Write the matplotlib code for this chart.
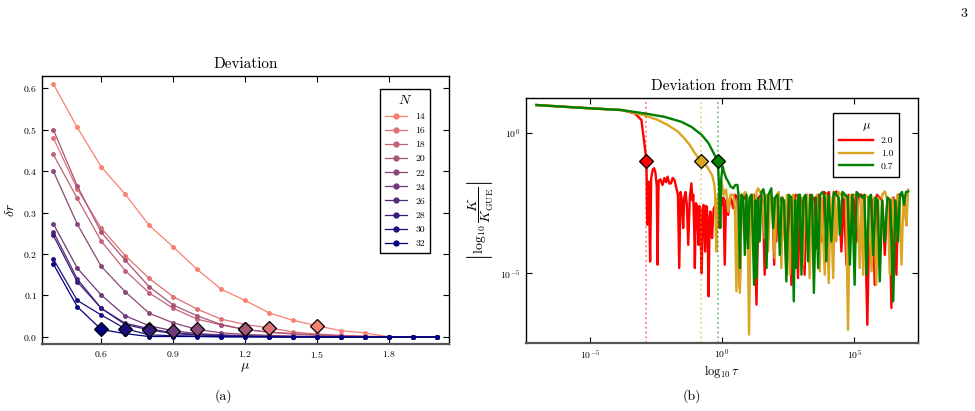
import numpy as np
import matplotlib
matplotlib.use("Agg")
import matplotlib.pyplot as plt

plt.rcParams['font.family'] = 'serif'
plt.rcParams['font.serif'] = ['cmr10', 'DejaVu Serif']
plt.rcParams['mathtext.fontset'] = 'cm'
plt.rcParams['axes.formatter.use_mathtext'] = True
plt.rcParams['axes.unicode_minus'] = False

# (a) deviation of r vs mu
mu = [0.4, 0.5, 0.6, 0.7, 0.8, 0.9, 1.0, 1.1, 1.2, 1.3, 1.4, 1.5, 1.6, 1.7, 1.8, 1.9, 2.0]
Ns = [14, 16, 18, 20, 22, 24, 26, 28, 30, 32]
dr14 = [0.61, 0.505, 0.41, 0.344, 0.269, 0.217, 0.163, 0.115, 0.088, 0.058, 0.040, 0.027, 0.015, 0.010, 0.0, 0.0, 0.0]
dr16 = [0.48, 0.357, 0.262, 0.196, 0.141, 0.097, 0.067, 0.043, 0.030, 0.022, 0.012, 0.007, 0.004, 0.002, 0.001, 0.0, 0.0]
dr18 = [0.44, 0.334, 0.231, 0.160, 0.106, 0.069, 0.043, 0.029, 0.018, 0.011, 0.007, 0.004, 0.002, 0.001, 0.0, 0.0, 0.0]
dr20 = [0.50, 0.364, 0.252, 0.185, 0.121, 0.077, 0.051, 0.030, 0.018, 0.012, 0.008, 0.005, 0.003, 0.001, 0.0, 0.0, 0.0]
dr22 = [0.40, 0.272, 0.170, 0.109, 0.057, 0.034, 0.018, 0.010, 0.006, 0.004, 0.002, 0.001, 0.001, 0.0, 0.0, 0.0, 0.0]
dr24 = [0.273, 0.166, 0.101, 0.051, 0.027, 0.015, 0.008, 0.005, 0.003, 0.002, 0.001, 0.001, 0.0, 0.0, 0.0, 0.0, 0.0]
dr26 = [0.254, 0.140, 0.069, 0.033, 0.020, 0.010, 0.006, 0.004, 0.002, 0.001, 0.001, 0.0, 0.0, 0.0, 0.0, 0.0, 0.0]
dr28 = [0.245, 0.133, 0.069, 0.030, 0.017, 0.008, 0.005, 0.003, 0.002, 0.001, 0.0, 0.0, 0.0, 0.0, 0.0, 0.0, 0.0]
dr30 = [0.188, 0.088, 0.053, 0.020, 0.005, 0.003, 0.002, 0.001, 0.001, 0.0, 0.0, 0.0, 0.0, 0.0, 0.0, 0.0, 0.0]
dr32 = [0.176, 0.073, 0.018, 0.008, 0.001, 0.001, 0.001, 0.0, 0.0, 0.0, 0.0, 0.0, 0.0, 0.0, 0.0, 0.0, 0.0]
mu_star = [1.5, 1.3, 1.2, 1.2, 1.0, 0.9, 0.8, 0.8, 0.7, 0.6]

# (b) |log10 K/K_GUE| vs tau, points stored as (log10 tau, log10 value)
red_pts = [(-7.02, 1.01), (-5.5, 0.92), (-3.80, 0.83), (-3.30, 0.71), (-3.05, 0.475), (-2.93, -0.42), (-2.86, -1.0),
           (-2.83, -3.27), (-2.80, -1.9), (-2.77, -1.73), (-2.72, -4.59), (-2.68, -1.6), (-2.62, -1.3), (-2.57, -1.25),
           (-2.52, -1.4), (-2.47, -1.9), (-2.44, -4.70), (-2.40, -1.7), (-2.33, -1.65), (-2.25, -1.85), (-2.18, -1.6),
           (-2.12, -1.75), (-2.06, -1.55), (-2.00, -1.8), (-1.93, -1.79), (-1.87, -1.6), (-1.80, -1.67), (-1.72, -2.0),
           (-1.67, -2.20), (-1.62, -4.82), (-1.57, -2.1), (-1.52, -2.4), (-1.47, -3.39), (-1.43, -2.3), (-1.38, -2.1),
           (-1.33, -2.6), (-1.28, -3.99), (-1.22, -2.3), (-1.16, -1.79), (-1.12, -2.4), (-1.09, -2.20), (-1.05, -3.6),
           (-1.03, -4.82), (-0.99, -2.5), (-0.96, -2.56), (-0.92, -3.3), (-0.89, -3.99), (-0.86, -2.6), (-0.83, -2.68),
           (-0.80, -4.1), (-0.77, -5.0), (-0.73, -2.7), (-0.70, -2.56), (-0.67, -3.4), (-0.64, -4.23), (-0.60, -2.6),
           (-0.57, -2.68), (-0.54, -4.0), (-0.51, -5.83), (-0.47, -3.0), (-0.44, -2.80), (-0.41, -3.2), (-0.38, -3.75),
           (-0.32, -2.7), (-0.25, -2.56), (-0.18, -2.4), (-0.12, -2.20), (-0.09, -3.39), (-0.05, -2.4), (0.0, -2.56),
           (0.05, -2.3), (0.10, -4.70), (0.15, -2.4), (0.23, -2.92), (0.30, -2.3), (0.36, -2.4), (0.42, -2.68),
           (0.50, -2.2), (0.58, -2.3), (0.67, -5.54), (0.74, -2.2), (0.82, -2.35), (0.90, -2.2), (0.97, -2.5),
           (1.05, -3.63), (1.12, -2.3), (1.20, -2.2), (1.30, -6.13), (1.38, -2.3), (1.47, -2.2), (1.54, -2.4),
           (1.61, -5.06), (1.68, -2.3), (1.76, -2.2), (1.84, -2.5), (1.90, -2.3), (1.97, -4.70), (2.01, -2.4),
           (2.05, -3.87), (2.12, -2.2), (2.20, -2.4), (2.28, -2.3), (2.36, -2.6), (2.43, -5.06), (2.50, -2.3),
           (2.56, -2.4), (2.62, -5.42), (2.70, -2.3), (2.78, -2.2), (2.87, -5.18), (2.95, -2.3), (3.03, -2.5),
           (3.12, -5.06), (3.18, -2.3), (3.25, -3.87), (3.33, -2.2), (3.42, -2.4), (3.50, -2.3), (3.57, -4.11),
           (3.64, -2.2), (3.71, -2.3), (3.78, -3.87), (3.86, -2.1), (3.95, -2.2), (4.04, -2.1), (4.13, -3.28),
           (4.22, -2.2), (4.32, -2.08), (4.42, -2.4), (4.51, -4.23), (4.60, -2.3), (4.70, -4.70), (4.78, -2.2),
           (4.88, -2.3), (4.96, -2.2), (5.08, -3.87), (5.16, -2.2), (5.27, -2.20), (5.38, -2.4), (5.49, -6.85),
           (5.58, -2.3), (5.68, -2.4), (5.77, -5.42), (5.85, -2.2), (5.95, -2.3), (6.05, -2.4), (6.15, -4.35),
           (6.25, -2.3), (6.32, -2.4), (6.40, -6.25), (6.48, -2.3), (6.59, -5.06), (6.66, -2.2), (6.78, -2.20),
           (6.88, -2.3), (6.97, -3.28)]
gold_pts = [(-7.02, 1.01), (-5.5, 0.92), (-3.80, 0.83), (-2.93, 0.64), (-2.44, 0.48), (-2.06, 0.30), (-1.67, 0.06),
            (-1.42, -0.19), (-1.22, -0.42), (-1.03, -0.71), (-0.80, -1.0), (-0.57, -1.19), (-0.38, -1.49), (-0.30, -1.8),
            (-0.26, -2.2), (-0.22, -4.23), (-0.18, -2.5), (-0.15, -2.32), (-0.08, -1.9), (-0.02, -1.73), (0.06, -2.2),
            (0.15, -2.0), (0.23, -2.80), (0.32, -2.2), (0.42, -2.20), (0.48, -2.6), (0.54, -5.65), (0.60, -2.4),
            (0.67, -5.71), (0.74, -2.3), (0.80, -2.20), (0.88, -2.1), (0.95, -2.3), (1.02, -7.2), (1.09, -2.2),
            (1.17, -2.20), (1.24, -3.28), (1.30, -2.1), (1.36, -1.97), (1.44, -2.1), (1.52, -2.3), (1.61, -3.75),
            (1.67, -2.2), (1.74, -4.23), (1.82, -2.2), (1.90, -2.3), (1.99, -4.46), (2.06, -2.2), (2.14, -2.1),
            (2.24, -4.82), (2.30, -2.3), (2.37, -3.87), (2.45, -2.2), (2.56, -5.06), (2.63, -2.3), (2.69, -2.2),
            (2.75, -4.58), (2.83, -2.3), (2.95, -2.2), (3.06, -4.70), (3.14, -2.3), (3.22, -2.2), (3.31, -5.18),
            (3.40, -2.3), (3.50, -4.35), (3.58, -2.2), (3.69, -4.94), (3.76, -2.3), (3.88, -5.06), (3.95, -2.2),
            (4.03, -5.36), (4.10, -2.3), (4.20, -5.18), (4.26, -2.2), (4.32, -3.87), (4.40, -2.1), (4.50, -2.2),
            (4.60, -2.3), (4.68, -2.2), (4.76, -7.03), (4.84, -2.2), (4.94, -2.3), (5.04, -2.2), (5.12, -2.4),
            (5.20, -4.82), (5.27, -2.3), (5.33, -5.06), (5.40, -2.2), (5.52, -2.3), (5.65, -4.94), (5.74, -2.3),
            (5.83, -5.42), (5.90, -2.3), (5.96, -4.82), (6.05, -2.2), (6.15, -2.08), (6.25, -2.4), (6.34, -5.06),
            (6.43, -2.3), (6.53, -3.87), (6.62, -2.2), (6.70, -2.3), (6.78, -4.70), (6.86, -2.2), (6.97, -3.28),
            (7.03, -2.02)]
green_pts = [(-7.02, 1.01), (-5.5, 0.92), (-3.80, 0.83), (-2.93, 0.71), (-2.19, 0.59), (-1.54, 0.41), (-1.16, 0.23),
             (-0.77, -0.06), (-0.51, -0.36), (-0.32, -0.71), (-0.16, -1.0), (-0.11, -2.0), (-0.07, -3.39), (-0.03, -1.6),
             (0.02, -1.19), (0.08, -1.4), (0.15, -1.6), (0.23, -1.73), (0.32, -1.9), (0.42, -1.97), (0.50, -1.85),
             (0.58, -1.85), (0.62, -2.2), (0.67, -4.82), (0.73, -2.20), (0.80, -2.3), (0.86, -4.35), (0.92, -2.2),
             (0.98, -4.11), (1.04, -2.3), (1.12, -2.2), (1.21, -5.42), (1.26, -2.4), (1.30, -5.18), (1.36, -2.32),
             (1.42, -3.87), (1.49, -2.1), (1.56, -2.0), (1.62, -2.3), (1.68, -4.82), (1.75, -2.2), (1.86, -1.97),
             (1.93, -3.39), (2.00, -2.3), (2.10, -2.2), (2.18, -4.35), (2.25, -2.3), (2.34, -2.4), (2.43, -5.30),
             (2.52, -2.2), (2.62, -2.3), (2.71, -6.01), (2.76, -2.4), (2.81, -4.82), (2.88, -2.2), (2.94, -2.20),
             (3.00, -5.06), (3.08, -2.3), (3.16, -2.2), (3.25, -4.58), (3.33, -2.3), (3.40, -2.2), (3.47, -5.71),
             (3.55, -2.3), (3.63, -4.82), (3.70, -2.2), (3.80, -2.1), (3.88, -2.3), (3.94, -4.58), (4.02, -2.2),
             (4.13, -3.87), (4.22, -2.1), (4.32, -2.2), (4.40, -2.3), (4.45, -3.63), (4.55, -2.1), (4.65, -2.2),
             (4.75, -2.3), (4.83, -4.70), (4.92, -2.2), (5.01, -5.42), (5.08, -2.1), (5.18, -2.2), (5.30, -2.3),
             (5.38, -2.2), (5.46, -5.06), (5.55, -2.3), (5.63, -2.2), (5.71, -4.35), (5.80, -2.3), (5.88, -2.4),
             (5.96, -5.30), (6.05, -2.4), (6.15, -3.87), (6.25, -2.3), (6.36, -2.4), (6.47, -6.01), (6.55, -2.4),
             (6.65, -3.87), (6.72, -2.2), (6.80, -2.1), (6.88, -2.56), (6.95, -2.1), (7.03, -2.08)]
mus_b = ['2.0', '1.0', '0.7']
ltau_star = [-2.86, -0.80, -0.16]
threshold = 0.1

fig = plt.figure(figsize=(9.75, 4.11), dpi=100)

# colours from salmon to navy
c0 = np.array([250, 128, 114]) / 255.0
c1 = np.array([0, 0, 128]) / 255.0
cols = [tuple(c0 + (c1 - c0) * i / (len(Ns) - 1)) for i in range(len(Ns))]

ax1 = fig.add_axes([0.0431, 0.163, 0.4174, 0.652])
curves = [dr14, dr16, dr18, dr20, dr22, dr24, dr26, dr28, dr30, dr32]
for i in range(len(Ns)):
    ax1.plot(mu, curves[i], '-o', color=cols[i], lw=0.9, ms=2.5, label=str(Ns[i]))
for i in range(len(Ns)):
    j = mu.index(mu_star[i])
    ax1.plot(mu_star[i], curves[i][j], 'D', color=cols[i], mec='black', mew=0.9, ms=7, zorder=5)
ax1.set_xlim(0.353, 2.05)
ax1.set_ylim(-0.017, 0.629)
ax1.set_xticks([0.6, 0.9, 1.2, 1.5, 1.8])
ax1.set_yticks([0.0, 0.1, 0.2, 0.3, 0.4, 0.5, 0.6])
ax1.set_xlabel(r'$\mu$', fontsize=10, labelpad=1)
ax1.set_ylabel(r'$\delta r$', fontsize=10, labelpad=4)
ax1.set_title('Deviation', fontsize=11, pad=6)
leg = ax1.legend(title=r'$N$', loc='upper right', bbox_to_anchor=(0.965, 0.97), fontsize=7,
                 title_fontsize=10, fancybox=False, edgecolor='black', framealpha=1,
                 handlelength=2.3, labelspacing=0.55, borderpad=0.5, markerscale=1.4)
leg.get_frame().set_linewidth(1.0)

ax2 = fig.add_axes([0.539, 0.1655, 0.4024, 0.596])
series = [(red_pts, 'red'), (gold_pts, 'goldenrod'), (green_pts, 'green')]
for k, (pts, c) in enumerate(series):
    lx, ly = np.array(pts).T
    ax2.plot(10.0 ** lx, 10.0 ** ly, color=c, lw=1.7, label=mus_b[k])
for k, (pts, c) in enumerate(series):
    ax2.axvline(10.0 ** ltau_star[k], color=c, ls=':', lw=1.3, alpha=0.5)
    ax2.plot(10.0 ** ltau_star[k], threshold, 'D', color=c, mec='black', mew=0.9, ms=7, zorder=5)
ax2.set_xscale('log')
ax2.set_yscale('log')
ax2.set_xlim(10 ** -7.43, 10 ** 7.40)
ax2.set_ylim(10 ** -7.5, 10 ** 1.26)
ax2.set_xticks([1e-5, 1e0, 1e5])
ax2.set_yticks([1e-5, 1e0])
ax2.minorticks_off()
ax2.set_xlabel(r'$\log_{10}\tau$', fontsize=9, labelpad=1)
ax2.set_ylabel(r'$\left|\log_{10}\dfrac{K}{K_{\rm GUE}}\right|$', fontsize=10, labelpad=4)
ax2.set_title('Deviation from RMT', fontsize=11, pad=6)
leg2 = ax2.legend(title=r'$\mu$', loc='upper right', bbox_to_anchor=(0.965, 0.96), fontsize=7,
                  title_fontsize=9, fancybox=False, edgecolor='black', framealpha=1,
                  handlelength=3.5, labelspacing=0.4, borderpad=0.6)
leg2.get_frame().set_linewidth(1.0)

for ax in [ax1, ax2]:
    ax.tick_params(direction='in', top=True, right=True, labelsize=7, length=4, width=0.8)
    for s in ax.spines.values():
        s.set_linewidth(1.0)
    ax.spines['bottom'].set_color('#555555')
    ax.spines['bottom'].set_linewidth(1.6)

fig.text(0.9887, 0.966, '3', fontsize=10, ha='center', va='center')
fig.text(0.2287, 0.0365, '(a)', fontsize=10, ha='center', va='center')
fig.text(0.7097, 0.0365, '(b)', fontsize=10, ha='center', va='center')

plt.savefig('out.png', dpi=100)
